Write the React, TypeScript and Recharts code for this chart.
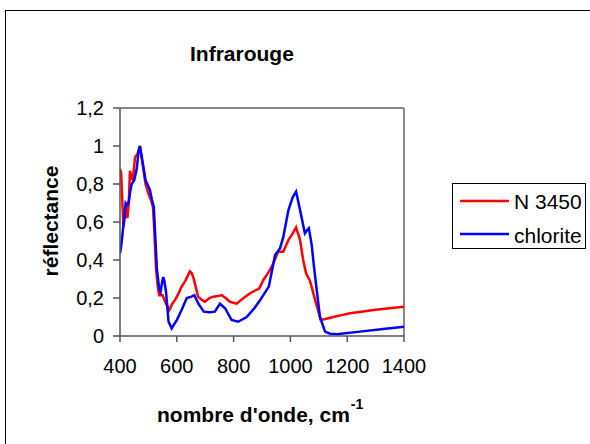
import React from 'react';
import { LineChart, Line, XAxis, YAxis, ReferenceLine, Legend } from 'recharts';

const FONT = '"Liberation Sans", Arial, sans-serif';

const xTicks = [400, 600, 800, 1000, 1200, 1400];
const yTicks = [0, 0.2, 0.4, 0.6, 0.8, 1, 1.2];

const redX = [400, 404, 412, 421, 426, 431, 435, 440, 445, 453, 462, 470, 480, 490, 500, 508, 516, 521, 527, 533, 538, 550, 562, 574, 584, 594, 605, 617, 630, 646, 653, 660, 668, 675, 688, 699, 715, 729, 745, 758, 772, 787, 811, 835, 858, 890, 905, 925, 940, 957, 975, 993, 1008, 1020, 1034, 1045, 1055, 1069, 1087, 1107, 1130, 1151, 1180, 1210, 1250, 1292, 1340, 1400];
const redY = [0.88, 0.86, 0.575, 0.68, 0.62, 0.7, 0.87, 0.84, 0.82, 0.94, 0.96, 1.0, 0.9, 0.8, 0.75, 0.72, 0.68, 0.55, 0.35, 0.26, 0.215, 0.215, 0.17, 0.137, 0.17, 0.19, 0.22, 0.26, 0.29, 0.34, 0.33, 0.3, 0.25, 0.207, 0.19, 0.18, 0.2, 0.207, 0.21, 0.215, 0.2, 0.18, 0.17, 0.2, 0.225, 0.25, 0.295, 0.34, 0.383, 0.444, 0.444, 0.505, 0.54, 0.572, 0.505, 0.4, 0.33, 0.29, 0.19, 0.084, 0.092, 0.1, 0.11, 0.12, 0.128, 0.137, 0.145, 0.154];

const blueX = [400, 404, 409, 415, 420, 425, 430, 436, 441, 450, 459, 465, 470, 478, 490, 496, 505, 512, 519, 530, 538, 543, 548, 552, 556, 562, 571, 582, 590, 600, 617, 635, 652, 662, 676, 695, 715, 734, 752, 770, 793, 816, 846, 858, 875, 894, 924, 936, 946, 963, 975, 993, 1008, 1020, 1034, 1051, 1058, 1065, 1075, 1083, 1104, 1122, 1140, 1163, 1245, 1327, 1400];
const blueY = [0.436, 0.47, 0.54, 0.62, 0.7, 0.69, 0.7, 0.76, 0.8, 0.82, 0.88, 0.97, 1.0, 0.93, 0.82, 0.8, 0.77, 0.72, 0.68, 0.35, 0.25, 0.233, 0.28, 0.31, 0.29, 0.233, 0.075, 0.04, 0.06, 0.084, 0.137, 0.2, 0.207, 0.215, 0.17, 0.128, 0.125, 0.128, 0.17, 0.146, 0.084, 0.075, 0.1, 0.12, 0.15, 0.19, 0.26, 0.35, 0.426, 0.46, 0.52, 0.663, 0.73, 0.76, 0.663, 0.54, 0.555, 0.567, 0.48, 0.365, 0.1, 0.023, 0.012, 0.009, 0.023, 0.037, 0.049];

const redData = redX.map((x, i) => ({ x, y: redY[i] }));
const blueData = blueX.map((x, i) => ({ x, y: blueY[i] }));

const series = [
  { name: 'N 3450', color: '#FF0000', data: redData },
  { name: 'chlorite', color: '#0000FF', data: blueData },
];

const fmt = (v: number) => String(v).replace('.', ',');

const LegendBox = () => (
  <div
    style={{
      position: 'absolute',
      left: 452,
      top: 183,
      width: 134,
      height: 66,
      border: '1px solid #000',
      background: '#fff',
      boxSizing: 'border-box',
    }}
  >
    <svg width={134} height={66} style={{ display: 'block' }}>
      {series.map((s, i) => (
        <g key={s.name}>
          <line x1={7} x2={56} y1={17 + i * 33} y2={17 + i * 33} stroke={s.color} strokeWidth={2.5} />
          <text x={61} y={25 + i * 33.5} fontFamily={FONT} fontSize={21} fill="#000">
            {s.name}
          </text>
        </g>
      ))}
    </svg>
  </div>
);

export default function App() {
  return (
    <div style={{ position: 'absolute', left: 0, top: 0, width: 590, height: 444, background: '#fff', overflow: 'hidden' }}>
      <div
        style={{
          position: 'absolute',
          left: 5,
          top: 10,
          width: 700,
          height: 600,
          borderLeft: '1px solid #000',
          borderTop: '1px solid #000',
        }}
      />
      <div style={{ position: 'absolute', left: 0, top: 0 }}>
        <LineChart width={590} height={444} margin={{ top: 108, right: 186, bottom: 68, left: 60 }}>
          <XAxis
            dataKey="x"
            type="number"
            domain={[400, 1400]}
            ticks={xTicks}
            allowDataOverflow
            stroke="#555"
            strokeWidth={1.5}
            tickSize={6}
            tickMargin={17}
            height={40}
            tick={{ fill: '#000', fontSize: 20, fontFamily: FONT }}
            interval={0}
          />
          <YAxis
            type="number"
            domain={[0, 1.2]}
            ticks={yTicks}
            allowDataOverflow
            stroke="#555"
            strokeWidth={1.5}
            tickSize={7}
            tickMargin={9}
            width={60}
            tickFormatter={fmt}
            tick={{ fill: '#000', fontSize: 20, fontFamily: FONT }}
            interval={0}
          />
          <ReferenceLine y={1.2} stroke="#888" strokeWidth={2} ifOverflow="extendDomain" />
          <ReferenceLine x={1400} stroke="#888" strokeWidth={2} ifOverflow="extendDomain" />
          {series.map((s) => (
            <Line
              key={s.name}
              data={s.data}
              dataKey="y"
              name={s.name}
              type="linear"
              stroke={s.color}
              strokeWidth={2.5}
              dot={false}
              activeDot={false}
              isAnimationActive={false}
            />
          ))}
          <Legend content={() => null} />
        </LineChart>
      </div>
      <svg width={590} height={444} style={{ position: 'absolute', left: 0, top: 0, pointerEvents: 'none' }}>
        <text x={190} y={61} fontFamily={FONT} fontWeight="bold" fontSize={21} fill="#000">
          Infrarouge
        </text>
        <text
          x={58}
          y={221}
          transform="rotate(-90 58 221)"
          textAnchor="middle"
          fontFamily={FONT}
          fontWeight="bold"
          fontSize={21}
          fill="#000"
        >
          réflectance
        </text>
        <text x={157} y={422} fontFamily={FONT} fontWeight="bold" fontSize={21} fill="#000">
          nombre d'onde, cm
          <tspan fontSize={14} dy={-13} dx={1}>-1</tspan>
        </text>
      </svg>
      <LegendBox />
    </div>
  );
}
